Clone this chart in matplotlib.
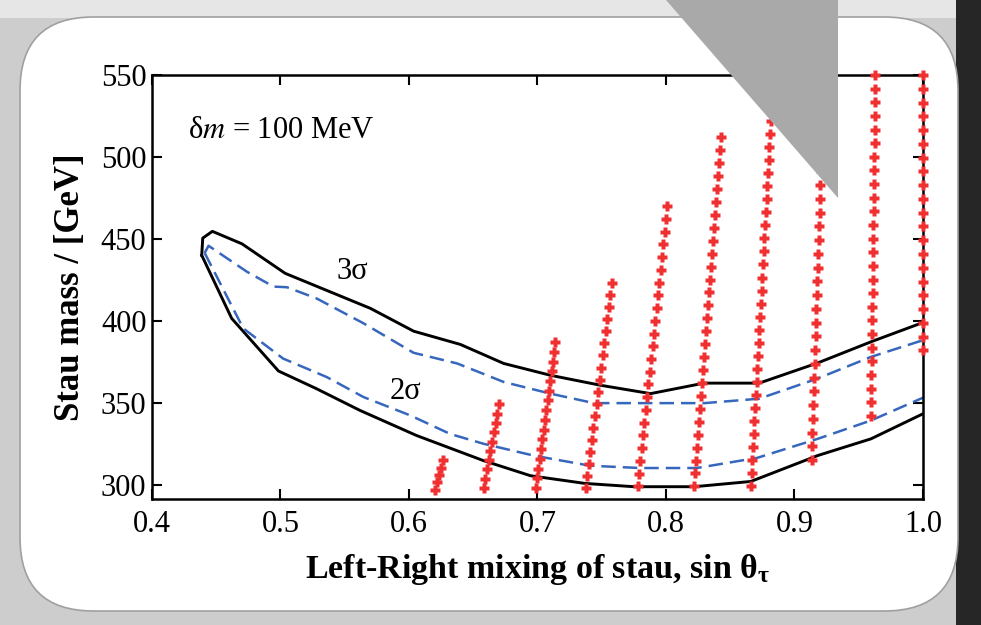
import numpy as np
import matplotlib.pyplot as plt
from matplotlib.patches import FancyBboxPatch, Polygon, Rectangle

plt.rcParams['font.family'] = ['Liberation Serif', 'DejaVu Serif']
plt.rcParams['mathtext.fontset'] = 'stix'

# 3 sigma contour (black, closed at the left tip)
c3_upper_x = [0.4387, 0.4395, 0.447, 0.470, 0.5036, 0.570, 0.6036, 0.640, 0.6737,
              0.710, 0.749, 0.788, 0.8296, 0.8725, 0.918, 0.9595, 1.0]
c3_upper_m = [440, 450.5, 454.6, 447, 429, 407.6, 393.7, 385.6, 374,
              366.8, 360.7, 355.6, 362, 362, 374.3, 387.2, 399]
c3_lower_x = [0.4387, 0.462, 0.4984, 0.528, 0.562, 0.606, 0.658, 0.6946, 0.737,
              0.775, 0.822, 0.866, 0.918, 0.9595, 1.0]
c3_lower_m = [440, 401.5, 369.4, 358.6, 345.3, 330, 314.7, 305.5, 300.8,
              298.8, 298.8, 302, 317.8, 328, 343.3]

# 2 sigma contour (blue dashed)
c2_upper_x = [0.441, 0.444, 0.4738, 0.4945, 0.505, 0.528, 0.5646, 0.6036, 0.6375,
              0.6737, 0.710, 0.744, 0.788, 0.830, 0.8725, 0.918, 0.9595, 1.0]
c2_upper_m = [441.4, 445.8, 430, 420.9, 420.5, 413.7, 398.5, 380.5, 374,
              362.7, 355.6, 349.8, 349.8, 349.8, 352.5, 364.8, 378, 388.2]
c2_lower_x = [0.441, 0.471, 0.502, 0.536, 0.5646, 0.601, 0.632, 0.658, 0.697,
              0.741, 0.780, 0.824, 0.871, 0.918, 0.9595, 1.0]
c2_lower_m = [441.4, 395.4, 377, 365.7, 353.5, 342.3, 331, 325, 317.8,
              311.6, 310.2, 310.2, 316.4, 328, 339.2, 353.1]

# scan columns: bottom/top sin(theta), bottom/top mass, number of scan points
col_x_bot = [0.6205, 0.658, 0.6985, 0.7375, 0.778, 0.822, 0.866, 0.9133, 0.9595, 1.0]
col_x_top = [0.6265, 0.670, 0.714, 0.758, 0.801, 0.843, 0.8816, 0.923, 0.963, 1.0]
col_m_bot = [297, 298, 298, 298, 299, 299, 299, 315, 342, 382]
col_m_top = [315, 349, 387, 423, 470, 512, 522, 550, 550, 550]
col_n = [5, 10, 16, 18, 23, 28, 29, 29, 26, 21]

xticks = [0.4, 0.5, 0.6, 0.7, 0.8, 0.9, 1.0]
yticks = [300, 350, 400, 450, 500, 550]

fig = plt.figure(figsize=(9.81, 6.25), dpi=100)
fig.patch.set_facecolor('#cdcdcd')

# slide decoration: white rounded panel, dark strip at right
W, H = 981, 625
fig.patches.append(Rectangle((0, 1 - 18 / H), 1, 18 / H, transform=fig.transFigure,
                             facecolor='#e6e6e6', edgecolor='none', zorder=-3))
fig.patches.append(Rectangle((956 / W, 0), 25 / W, 1, transform=fig.transFigure,
                             facecolor='#262626', edgecolor='none', zorder=-2))
fig.patches.append(FancyBboxPatch((20 / W, 14 / H), 938 / W, 594 / H,
                                  boxstyle='round,pad=0,rounding_size=0.075',
                                  transform=fig.transFigure, facecolor='white',
                                  edgecolor='#a0a0a0', linewidth=1.2, zorder=-1,
                                  mutation_aspect=W / H))

ax = fig.add_axes([152 / W, 1 - 499 / H, 771 / W, 424 / H])
ax.set_facecolor('none')

ax.plot(c3_upper_x, c3_upper_m, color='black', lw=2.1)
ax.plot(c3_lower_x, c3_lower_m, color='black', lw=2.1)
ax.plot(c2_upper_x, c2_upper_m, color='#3767bd', lw=1.8, dashes=(5.8, 2.8))
ax.plot(c2_lower_x, c2_lower_m, color='#3767bd', lw=1.8, dashes=(5.8, 2.8))

for xb, xt, mb, mt, n in zip(col_x_bot, col_x_top, col_m_bot, col_m_top, col_n):
    ax.plot(np.linspace(xb, xt, n), np.linspace(mb, mt, n), ls='none', marker='P',
            ms=7, mec='none', color='#f03030', clip_on=False, zorder=3)

ax.text(0.428, 516, r'δ$\mathit{m}$ = 100 MeV', fontsize=22, va='center')
ax.text(0.556, 430, '3σ', fontsize=22, ha='center', va='center')
ax.text(0.597, 357, '2σ', fontsize=22, ha='center', va='center')

ax.set_xlim(0.4, 1.0)
ax.set_ylim(291.3, 550)
ax.set_xticks(xticks)
ax.set_xticklabels(['%.1f' % t for t in xticks])
ax.set_yticks(yticks)
ax.tick_params(direction='in', length=7, width=1.5, labelsize=22,
               top=True, right=True)
ax.tick_params(axis='x', pad=8)
ax.tick_params(axis='y', pad=4)
for s in ax.spines.values():
    s.set_linewidth(1.8)

ax.set_xlabel(r'Left-Right mixing of stau, sin θ$_{\mathregular{τ}}$', fontsize=24.5,
              fontweight='bold', labelpad=9)
ax.set_ylabel('Stau mass / [GeV]', fontsize=25, fontweight='bold', labelpad=10)

# grey triangle overlay from the slide
fig.patches.append(Polygon([(666 / W, 1.0), (838 / W, 1.0), (838 / W, 1 - 198 / H)],
                           closed=True, transform=fig.transFigure,
                           facecolor='#a9a9a9', edgecolor='none', zorder=5))

fig.savefig('out.png', dpi=100, facecolor=fig.get_facecolor())
